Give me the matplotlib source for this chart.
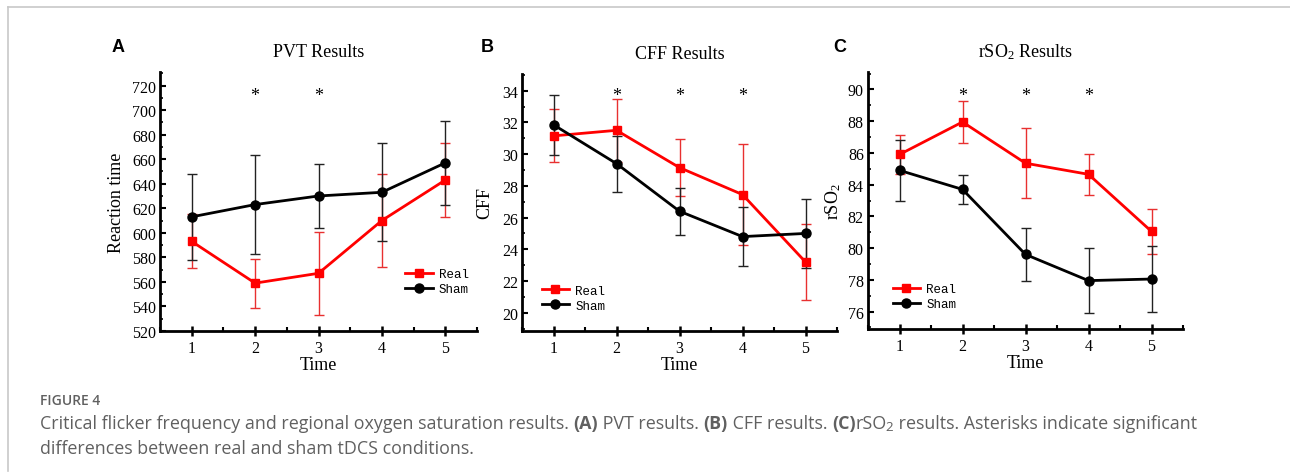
import matplotlib
matplotlib.use("Agg")
import matplotlib.pyplot as plt
from matplotlib.lines import Line2D
from matplotlib.ticker import MultipleLocator

# data
time = [1, 2, 3, 4, 5]

pvt_real = [593, 559, 567, 610, 643]
pvt_real_err = [22, 20, 34, 38, 30]
pvt_sham = [613, 623, 630, 633, 657]
pvt_sham_err = [35, 40, 26, 40, 34]

cff_real = [31.15, 31.5, 29.15, 27.45, 23.2]
cff_real_err = [1.67, 2.0, 1.8, 3.2, 2.4]
cff_sham = [31.85, 29.4, 26.4, 24.8, 25.0]
cff_sham_err = [1.9, 1.76, 1.48, 1.88, 2.15]

rso2_real = [85.9, 87.95, 85.35, 84.65, 81.05]
rso2_real_err = [1.2, 1.33, 2.2, 1.3, 1.43]
rso2_sham = [84.9, 83.7, 79.6, 77.95, 78.05]
rso2_sham_err = [1.92, 0.9, 1.66, 2.03, 2.1]

stars_pvt = [2, 3]
stars_cff = [2, 3, 4]
stars_rso2 = [2, 3, 4]

serif = "Liberation Serif"
RED = "#ff0000"

fig = plt.figure(figsize=(12.9, 4.77), dpi=100)
W, H = 1290, 477


def box(l, r, t, b):
    return [l / W, 1 - b / H, (r - l) / W, (b - t) / H]


panels = [
    dict(pos=box(160, 477, 73, 332), ylim=(520, 731), major=20, minor=10,
         real=pvt_real, rerr=pvt_real_err, sham=pvt_sham, serr=pvt_sham_err,
         stars=stars_pvt, star_y=711.5, title="PVT Results", ylabel="Reaction time",
         ylab_x=-0.11, letter="A", letter_x=118, leg=(0.773, 0.243)),
    dict(pos=box(522, 837, 75, 332), ylim=(18.85, 35.05), major=2, minor=1,
         real=cff_real, rerr=cff_real_err, sham=cff_sham, serr=cff_sham_err,
         stars=stars_cff, star_y=33.7, title="CFF Results", ylabel="CFF",
         ylab_x=-0.092, letter="B", letter_x=487, leg=(0.0625, 0.18)),
    dict(pos=box(868, 1183, 73, 330), ylim=(74.9, 91.1), major=2, minor=1,
         real=rso2_real, rerr=rso2_real_err, sham=rso2_sham, serr=rso2_sham_err,
         stars=stars_rso2, star_y=89.6, title="rSO$_2$ Results", ylabel="rSO$_2$",
         ylab_x=-0.079, letter="C", letter_x=840, leg=(0.078, 0.179)),
]

plt.rcParams['mathtext.fontset'] = 'custom'
plt.rcParams['mathtext.rm'] = serif
plt.rcParams['mathtext.it'] = serif + ':italic'

for p in panels:
    ax = fig.add_axes(p["pos"])
    ax.errorbar(time, p["real"], yerr=p["rerr"], fmt='none', ecolor="#e83030",
                elinewidth=1.0, capsize=3.5, capthick=1.0, zorder=2)
    ax.errorbar(time, p["sham"], yerr=p["serr"], fmt='none', ecolor="#222222",
                elinewidth=1.0, capsize=3.5, capthick=1.0, zorder=3)
    l1, = ax.plot(time, p["real"], color=RED, lw=2.0, marker='s', ms=6,
                  zorder=4, label="Real")
    l2, = ax.plot(time, p["sham"], color="black", lw=2.0, marker='o', ms=6.5,
                  zorder=5, label="Sham")
    for s in p["stars"]:
        ax.text(s, p["star_y"], "*", ha='center', va='center', fontsize=13,
                family=serif)
    ax.set_xlim(0.5, 5.5)
    ax.set_ylim(*p["ylim"])
    ax.xaxis.set_major_locator(MultipleLocator(1))
    ax.xaxis.set_minor_locator(MultipleLocator(0.5))
    ax.yaxis.set_major_locator(MultipleLocator(p["major"]))
    ax.yaxis.set_minor_locator(MultipleLocator(p["minor"]))
    for side in ("top", "right"):
        ax.spines[side].set_visible(False)
    for side in ("left", "bottom"):
        ax.spines[side].set_linewidth(2.0)
    ax.tick_params(axis='x', which='major', direction='inout', length=7, width=1.8,
                   labelsize=11.5, pad=3)
    ax.tick_params(axis='x', which='minor', direction='in', length=3, width=1.5)
    ax.tick_params(axis='y', which='major', direction='in', length=4, width=1.5,
                   labelsize=11.5, pad=3)
    ax.tick_params(axis='y', which='minor', direction='in', length=2.5, width=1.2)
    for lab in ax.get_xticklabels() + ax.get_yticklabels():
        lab.set_family(serif)
    ax.set_xlabel("Time", fontsize=13, family=serif)
    ax.xaxis.set_label_coords(0.5, -0.097)
    ax.set_ylabel(p["ylabel"], fontsize=13, family=serif)
    ax.yaxis.set_label_coords(p["ylab_x"], 0.5)
    ax.text(0.5, 1.08, p["title"], transform=ax.transAxes, ha='center', va='center',
            fontsize=13, family=serif)
    fig.text(p["letter_x"] / W, 1 - 48 / H, p["letter"], fontsize=13,
             fontweight='bold', family="Liberation Sans", ha='center', va='center')
    ax.legend(handles=[l1, l2], loc='upper left', bbox_to_anchor=p["leg"],
              frameon=False, borderaxespad=0, borderpad=0, handlelength=2.2,
              handletextpad=0.5, labelspacing=0.25, numpoints=1,
              prop={'family': 'Liberation Mono', 'size': 9})

# page frame lines
fig.add_artist(Line2D([8 / W, 1], [1 - 8 / H, 1 - 8 / H], color="#c8c8c8", lw=1.2))
fig.add_artist(Line2D([8 / W, 8 / W], [1 - 8 / H, 1 - 472 / H], color="#c8c8c8", lw=1.2))

# caption
cap_font = "Open Sans"
cap_color = "#606060"
cap_size = 12.9
cap_x = 40
fig.text(cap_x / W, 1 - 401 / H, "FIGURE 4", fontsize=10, family=cap_font,
         fontweight='semibold', color=cap_color, va='center', ha='left')

line1 = [("Critical flicker frequency and regional oxygen saturation results. ", 'normal', 0),
         ("(A)", 'bold', 0), (" PVT results. ", 'normal', 0),
         ("(B)", 'bold', 0), (" CFF results. ", 'normal', 0),
         ("(C)", 'bold', 0), ("rSO", 'normal', 0), ("2", 'normal', 1),
         (" results. Asterisks indicate significant", 'normal', 0)]

renderer = fig.canvas.get_renderer()
x = cap_x
y = 1 - 424 / H
for txt, weight, sub in line1:
    size = cap_size * 0.75 if sub else cap_size
    yy = y - (4 / H if sub else 0)
    t = fig.text(x / W, yy, txt, fontsize=size, family=cap_font, fontweight=weight,
                 color=cap_color, va='center', ha='left')
    bb = t.get_window_extent(renderer)
    x += bb.width - (1 if txt == "rSO" else 0)
fig.text(cap_x / W, 1 - 449 / H, "differences between real and sham tDCS conditions.",
         fontsize=cap_size, family=cap_font, color=cap_color, va='center', ha='left')

fig.savefig("out.png", dpi=100)
